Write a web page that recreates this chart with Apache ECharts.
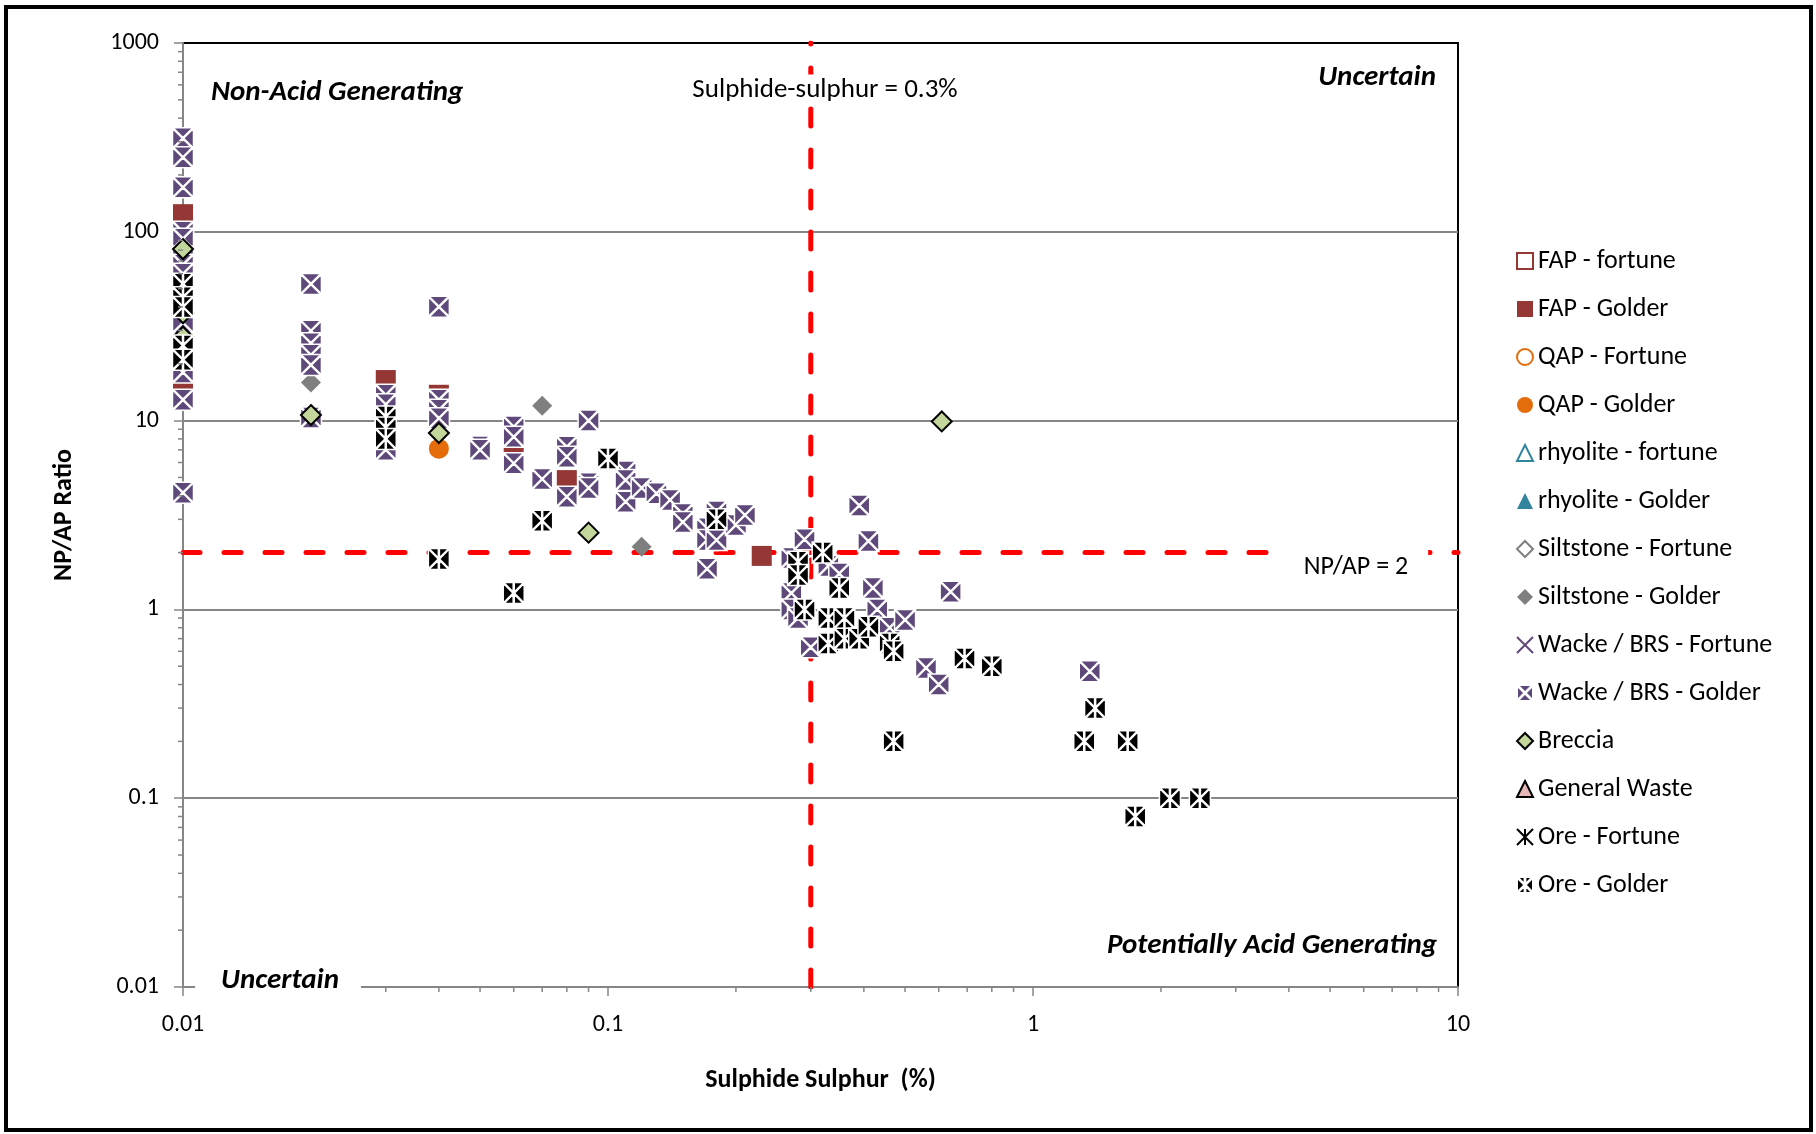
<!DOCTYPE html>
<html><head><meta charset="utf-8">
<script src="https://cdn.jsdelivr.net/npm/echarts@6/dist/echarts.min.js"></script>
<style>html,body{margin:0;padding:0;background:#fff}#c{width:1816px;height:1134px}</style>
</head><body><div id="c"></div>
<script>
// ---------- data ----------
const xTickLabels = ['0.01', '0.1', '1', '10'];
const yTickLabels = ['0.01', '0.1', '1', '10', '100', '1000'];
const xMinorTicks = [0.02,0.03,0.04,0.05,0.06,0.07,0.08,0.09,0.2,0.3,0.4,0.5,0.6,0.7,0.8,0.9,2,3,4,5,6,7,8,9];
const yMinorTicks = [0.02,0.03,0.04,0.05,0.06,0.07,0.08,0.09,0.2,0.3,0.4,0.5,0.6,0.7,0.8,0.9,2,3,4,5,6,7,8,9,20,30,40,50,60,70,80,90,200,300,400,500,600,700,800,900];

const sulphurLimit = 0.3;
const npapLimit = 2;

const fapFortune = [];
const fapGolder = [[0.01,124],[0.01,16],[0.01,30],[0.01,55],[0.02,19.7],[0.03,16.4],[0.04,13.7],[0.06,6.6],[0.08,4.84],[0.09,4.7],[0.23,1.92]];
const qapFortune = [];
const qapGolder = [[0.01,21],[0.04,7.1]];
const rhyoliteFortune = [];
const rhyoliteGolder = [];
const siltFortune = [];
const siltGolder = [[0.02,15.9],[0.07,12],[0.12,2.15]];
const wackeFortune = [];
const wackeGolder = [
  [0.01,313],[0.01,248],[0.01,172],[0.01,100],[0.01,92],[0.01,74],[0.01,67],[0.01,60],[0.01,33],[0.01,18],[0.01,12.9],[0.01,4.15],
  [0.02,52.9],[0.02,29.9],[0.02,25.7],[0.02,22.3],[0.02,19.7],[0.02,10.4],
  [0.03,13.7],[0.03,12.2],[0.03,7.0],
  [0.04,40.1],[0.04,12.9],[0.04,11.4],[0.04,10.3],
  [0.05,7.3],[0.05,7.0],
  [0.06,9.3],[0.06,8.2],[0.06,5.94],
  [0.07,4.9],
  [0.08,7.27],[0.08,6.44],[0.08,3.95],
  [0.09,10],[0.09,4.66],[0.09,4.4],
  [0.11,5.37],[0.11,4.84],[0.11,3.72],
  [0.12,4.4],[0.13,4.12],[0.14,3.8],
  [0.15,3.2],[0.15,2.9],
  [0.171,2.69],[0.171,2.33],[0.171,1.64],
  [0.18,3.3],[0.18,2.33],[0.2,2.8],[0.21,3.16],
  [0.27,1.87],[0.27,1.22],[0.27,1.0],[0.28,0.9],[0.29,2.35],[0.3,0.63],
  [0.33,1.7],[0.35,1.55],[0.39,3.55],[0.41,2.3],[0.42,1.3],[0.43,1.0],
  [0.46,0.8],[0.5,0.88],[0.56,0.49],[0.6,0.4],[0.64,1.24],[1.36,0.47]
];
const breccia = [[0.01,81],[0.01,37],[0.01,27.8],[0.02,10.7],[0.04,8.6],[0.09,2.55],[0.61,9.9]];
const generalWaste = [];
const oreFortune = [];
const oreGolder = [
  [0.01,53],[0.01,45],[0.01,40],[0.01,25],[0.01,21],
  [0.03,10.5],[0.03,9.2],[0.03,8.0],
  [0.04,1.85],[0.06,1.22],[0.07,2.95],[0.1,6.3],[0.18,3.0],
  [0.28,1.79],[0.28,1.52],[0.29,1.0],[0.32,2.0],[0.35,1.3],
  [0.33,0.9],[0.33,0.66],[0.36,0.9],[0.36,0.7],[0.39,0.7],[0.41,0.81],
  [0.46,0.66],[0.47,0.6],[0.47,0.2],[0.69,0.55],[0.8,0.5],
  [1.32,0.2],[1.4,0.3],[1.67,0.2],[1.74,0.08],[2.1,0.1],[2.47,0.1]
];

// ---------- styling ----------
const FONT = 'Carlito, Lato, "Liberation Sans", sans-serif';
const RED = '#953735', ORANGE = '#E46C0A', TEAL = '#31859C', GREY = '#7F7F7F', PURPLE = '#5F497A';
const AXIS = '#868686';
const pathCross = 'path://M0 0L10 10M10 0L0 10';
const pathStar = 'path://M0 0L10 10M10 0L0 10M5 0L5 10';
const pathBoxCross = 'path://M0.3 0L9.7 0L5 4.7ZM0 0.3L4.7 5L0 9.7ZM10 0.3L10 9.7L5.3 5ZM0.3 10L5 5.3L9.7 10Z';
const pathBoxStar = 'path://M0.3 0L4.75 0L4.75 4.45ZM5.25 0L9.7 0L5.25 4.45ZM0.3 10L4.75 10L4.75 5.55ZM5.25 10L9.7 10L5.25 5.55ZM0 0.3L4.7 5L0 9.7ZM10 0.3L10 9.7L5.3 5Z';

function sc(name, data, symbol, size, itemStyle) {
  return { name, type: 'scatter', data, symbol, symbolSize: size, itemStyle: Object.assign({ opacity: 1 }, itemStyle), silent: true, z: 3 };
}

const series = [
  { name: 'vline', type: 'line', data: [[sulphurLimit, 0.01], [sulphurLimit, 1000]], symbol: 'none', silent: true, z: 2,
    lineStyle: { color: '#FF0000', width: 5, type: [17, 24], cap: 'round' } },
  { name: 'hline', type: 'line', data: [[0.01, npapLimit], [10, npapLimit]], symbol: 'none', silent: true, z: 2,
    lineStyle: { color: '#FF0000', width: 5, type: [17, 24], cap: 'round' } },
  sc('FAP - fortune', fapFortune, 'rect', 20, { color: '#fff', borderColor: RED, borderWidth: 1.5 }),
  sc('FAP - Golder', fapGolder, 'rect', 20, { color: RED }),
  sc('QAP - Fortune', qapFortune, 'circle', 20, { color: '#fff', borderColor: ORANGE, borderWidth: 1.5 }),
  sc('QAP - Golder', qapGolder, 'circle', 20, { color: ORANGE }),
  sc('rhyolite - fortune', rhyoliteFortune, 'triangle', 20, { color: '#fff', borderColor: TEAL, borderWidth: 1.5 }),
  sc('rhyolite - Golder', rhyoliteGolder, 'triangle', 20, { color: TEAL }),
  sc('Siltstone - Fortune', siltFortune, 'diamond', 20, { color: '#fff', borderColor: GREY, borderWidth: 1.5 }),
  sc('Siltstone - Golder', siltGolder, 'diamond', 20, { color: GREY }),
  sc('Wacke / BRS - Fortune', wackeFortune, pathCross, 18, { color: 'transparent', borderColor: PURPLE, borderWidth: 1.5 }),
  sc('Wacke / BRS - Golder', wackeGolder, pathBoxCross, 21, { color: PURPLE, borderColor: '#ffffff', borderWidth: 1.5 }),
  sc('Breccia', breccia, 'diamond', 20, { color: '#C3D69B', borderColor: '#000', borderWidth: 2 }),
  sc('General Waste', generalWaste, 'triangle', 20, { color: '#E6B9B8', borderColor: '#000', borderWidth: 1.5 }),
  sc('Ore - Fortune', oreFortune, pathStar, 18, { color: 'transparent', borderColor: '#000', borderWidth: 1.5 }),
  sc('Ore - Golder', oreGolder, pathBoxStar, 21, { color: '#000', borderColor: '#ffffff', borderWidth: 1.5 }),
  { name: 'xminor', type: 'custom', silent: true, clip: false, z: 4,
    data: xMinorTicks.map(v => [v, 0.01]),
    renderItem: (p, api) => { const c = api.coord([api.value(0), api.value(1)]);
      return { type: 'line', shape: { x1: c[0], y1: c[1], x2: c[0], y2: c[1] + 5 }, style: { stroke: AXIS, lineWidth: 1.5 } }; } },
  { name: 'yminor', type: 'custom', silent: true, clip: false, z: 4,
    data: yMinorTicks.map(v => [0.01, v]),
    renderItem: (p, api) => { const c = api.coord([api.value(0), api.value(1)]);
      return { type: 'line', shape: { x1: c[0], y1: c[1], x2: c[0] - 5, y2: c[1] }, style: { stroke: AXIS, lineWidth: 1.5 } }; } }
];

const legendNames = ['FAP - fortune','FAP - Golder','QAP - Fortune','QAP - Golder','rhyolite - fortune','rhyolite - Golder',
  'Siltstone - Fortune','Siltstone - Golder','Wacke / BRS - Fortune','Wacke / BRS - Golder','Breccia','General Waste',
  'Ore - Fortune','Ore - Golder'];

const decLabel = (labels, base) => v => { const i = Math.round(Math.log10(v)) - base; return labels[i] !== undefined ? labels[i] : ''; };

const bold = { fontFamily: FONT, fontWeight: 'bold', fontStyle: 'italic', fontSize: 29, fill: '#000' };

const option = {
  animation: false,
  backgroundColor: '#fff',
  grid: { left: 183, right: 358, top: 43, bottom: 147, show: true, borderColor: '#000', borderWidth: 2, backgroundColor: 'transparent' },
  xAxis: {
    type: 'log', logBase: 10, min: 0.01, max: 10,
    name: 'Sulphide Sulphur  (%)', nameLocation: 'middle', nameGap: 80,
    nameTextStyle: { fontFamily: FONT, fontSize: 26, fontWeight: 'bold', color: '#000' },
    axisLine: { show: true, lineStyle: { color: AXIS, width: 2 } },
    axisTick: { show: true, length: 9, lineStyle: { color: AXIS, width: 1.5 } },
    axisLabel: { fontFamily: FONT, fontSize: 24, color: '#000', margin: 26, formatter: decLabel(xTickLabels, -2) },
    splitLine: { show: false }
  },
  yAxis: {
    type: 'log', logBase: 10, min: 0.01, max: 1000,
    name: 'NP/AP Ratio', nameLocation: 'middle', nameGap: 106, nameRotate: 90,
    nameTextStyle: { fontFamily: FONT, fontSize: 26, fontWeight: 'bold', color: '#000' },
    axisLine: { show: true, lineStyle: { color: AXIS, width: 2 } },
    axisTick: { show: true, length: 9, lineStyle: { color: AXIS, width: 1.5 } },
    axisLabel: { fontFamily: FONT, fontSize: 24, color: '#000', margin: 24, formatter: decLabel(yTickLabels, -2) },
    splitLine: { show: true, showMinLine: false, showMaxLine: false, lineStyle: { color: AXIS, width: 2 } }
  },
  legend: {
    orient: 'vertical', left: 1511, top: 243, itemWidth: 16, itemHeight: 16, itemGap: 22,
    data: legendNames, selectedMode: false,
    textStyle: { fontFamily: FONT, fontSize: 26, color: '#000', lineHeight: 24 }
  },
  series,
  graphic: [
    { type: 'rect', z: 100, silent: true, shape: { x: 6, y: 7, width: 1805, height: 1123 }, style: { fill: 'none', stroke: '#000', lineWidth: 4 } },
    { type: 'text', z: 100, silent: true, x: 211, y: 93, style: Object.assign({ text: 'Non-Acid Generating', textAlign: 'left', textVerticalAlign: 'middle' }, bold) },
    { type: 'text', z: 100, silent: true, x: 1436, y: 78, style: Object.assign({ text: 'Uncertain', textAlign: 'right', textVerticalAlign: 'middle' }, bold) },
    { type: 'text', z: 100, silent: true, x: 1437, y: 946, style: Object.assign({ text: 'Potentially Acid Generating', textAlign: 'right', textVerticalAlign: 'middle' }, bold) },
    { type: 'text', z: 100, silent: true, x: 278, y: 981, style: Object.assign({ text: 'Uncertain', textAlign: 'center', textVerticalAlign: 'middle', backgroundColor: '#fff', padding: [2, 22, 8, 26] }, bold) },
    { type: 'text', z: 100, silent: true, x: 825, y: 90, style: { text: 'Sulphide-sulphur = 0.3%', textAlign: 'center', textVerticalAlign: 'middle', fontFamily: FONT, fontSize: 27, fill: '#000', backgroundColor: '#fff', padding: [2, 6, 2, 6] } },
    { type: 'text', z: 100, silent: true, x: 1357, y: 567, style: { text: 'NP/AP = 2', textAlign: 'center', textVerticalAlign: 'middle', fontFamily: FONT, fontSize: 26, fill: '#000', backgroundColor: '#fff', padding: [10, 20, 4, 18] } }
  ]
};

const chart = echarts.init(document.getElementById('c'), null, { renderer: 'canvas' });
chart.setOption(option);
</script>
</body></html>
